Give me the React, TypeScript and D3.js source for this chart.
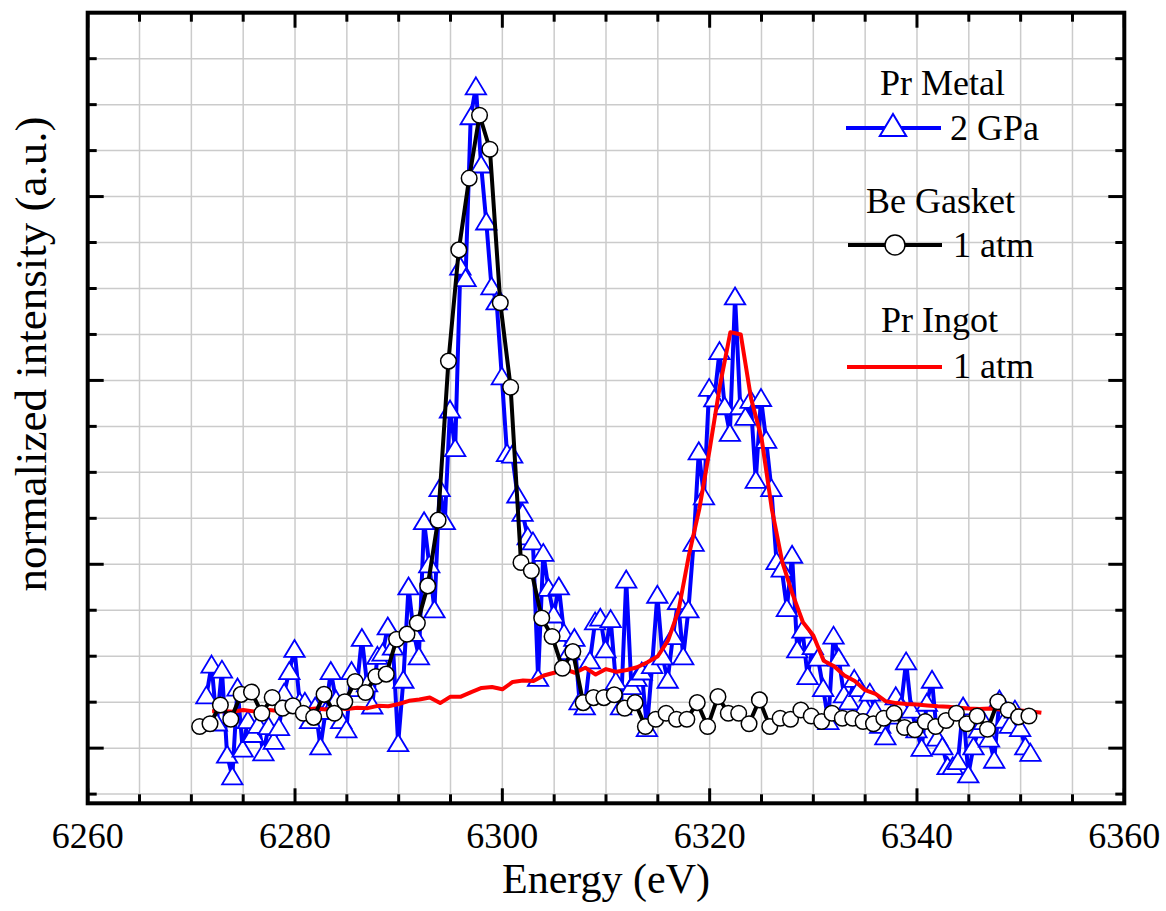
import React from "react";
import * as d3 from "d3";

// Pr Metal, 2 GPa (blue, triangles): 0.5 eV grid
const metalStart = 6271.45;
const metalStep = 0.5;
const metalValues = [
  1.14, 1.81, 0.55, 1.7, -0.15, -0.62, 1.31, -0.02, 0.6, 0.3,
  0.5, -0.1, 0.47, 0.15, 0.45, 1.2, 1.67, 2.15, 1.0, 1.0,
  0.6, 0.9, 0.03, 0.8, 1.67, 1.05, 0.6, 0.4, 1.67, 1.3,
  2.39, 1.4, 0.92, 2.0, 2.07, 2.64, 2.2, 0.1, 1.48, 3.51,
  2.5, 1.99, 4.93, 3.99, 3.01, 5.65, 4.93, 7.36, 6.52, 10.47,
  10.22, 13.74, 14.39, 12.69, 11.45, 10.04, 9.71, 8.08, 6.41, 6.38,
  5.51, 5.11, 4.6, 4.49, 1.52, 4.24, 3.48, 2.9, 3.51, 2.5,
  2.1, 2.39, 1.01, 0.9, 1.9, 2.75, 2.83, 2.14, 2.8, 1.45,
  0.9, 3.66, 1.34, 1.52, 1.66, 0.43, 1.8, 3.33, 1.99, 1.48,
  2.43, 3.19, 1.99, 3.01, 4.46, 6.45, 5.47, 7.83, 7.6, 8.63,
  7.43, 6.85, 9.82, 7.43, 7.2, 7.57, 5.83, 7.61, 6.7, 5.65,
  4.06, 3.9, 3.04, 4.2, 2.14, 2.57, 1.56, 2.21, 1.96, 1.3,
  0.58, 2.44, 1.96, 1.16, 1.01, 1.5, 1.3, 0.9, 1.2, 0.83,
  0.5, 0.25, 0.7, 1.12, 0.9, 1.88, 0.83, 0.4, 0.0, 0.98,
  1.48, 0.22, 0.03, -0.4, -0.4, -0.29, 0.9, -0.58, 0.03, 0.4,
  0.58, 0.2, -0.26, 1.05, 0.61, 0.5, 0.83, 0.43, 0.03, -0.11,
];

// Be Gasket, 1 atm (black, circles): 1 eV grid
const gasketStart = 6270.8;
const gasketStep = 1;
const gasketValues = [
  0.47, 0.53, 0.94, 0.63, 1.17, 1.22, 0.76, 1.1, 0.87, 0.92,
  0.76, 0.67, 1.17, 0.76, 1.01, 1.45, 1.21, 1.56, 1.61, 2.37,
  2.48, 2.72, 3.53, 4.96, 8.42, 10.84, 12.4, 13.77, 13.03, 9.69,
  7.85, 4.04, 3.86, 2.83, 2.43, 1.74, 2.1, 0.99, 1.1, 1.1,
  1.16, 0.87, 0.99, 0.47, 0.63, 0.76, 0.63, 0.63, 0.99, 0.47,
  1.12, 0.76, 0.76, 0.53, 1.05, 0.47, 0.65, 0.63, 0.83, 0.7,
  0.58, 0.76, 0.65, 0.65, 0.58, 0.53, 0.65, 0.76, 0.45, 0.4,
  0.58, 0.47, 0.6, 0.76, 0.53, 0.7, 0.41, 1.01, 0.83, 0.68,
  0.7,
];

// Pr Ingot, 1 atm (red line): 1 eV grid
const ingotStart = 6272;
const ingotStep = 1;
const ingotValues = [
  0.8, 0.81, 0.79, 0.83, 0.8, 0.84, 0.82, 0.85, 0.83, 0.84,
  0.86, 0.84, 0.87, 0.85, 0.88, 0.87, 0.92, 0.91, 0.96, 1.03,
  1.06, 1.1, 0.98, 1.12, 1.12, 1.22, 1.31, 1.33, 1.28, 1.44,
  1.47, 1.46, 1.58, 1.64, 1.72, 1.64, 1.75, 1.6, 1.72, 1.66,
  1.7, 1.76, 1.87, 2.0, 2.35, 3.0, 4.2, 5.2, 6.5, 7.9,
  9.05, 9.0, 7.6, 6.75, 5.2, 4.05, 3.35, 2.74, 2.45, 1.9,
  1.78, 1.58, 1.46, 1.26, 1.18, 1.02, 0.98, 0.96, 0.95, 0.93,
  0.91, 0.9, 0.88, 0.86, 0.85, 0.86, 0.84, 0.83, 0.82, 0.8,
  0.77,
];

const xTickLabels = [6260, 6280, 6300, 6320, 6340, 6360];
const xGrid = d3.range(6265, 6360, 5);
const yGrid = d3.range(-1, 16, 1);
const yMajor = [0, 4, 8, 12];

const font = "'Liberation Serif', 'Times New Roman', serif";
const gridColor = "#cbcbcb";

const toPoints = (start: number, step: number, vals: number[]) =>
  vals.map((v, i) => ({ e: start + i * step, v }));

const App = () => {
  const left = 87.7;
  const right = 1124.3;
  const top = 12.7;
  const bottom = 803.3;

  const x = d3.scaleLinear().domain([6260, 6360]).range([left, right]);
  const y = d3.scaleLinear().domain([-1.2, 16]).range([bottom, top]);

  const metal = toPoints(metalStart, metalStep, metalValues);
  const gasket = toPoints(gasketStart, gasketStep, gasketValues);
  const ingot = toPoints(ingotStart, ingotStep, ingotValues);

  const line = d3
    .line<{ e: number; v: number }>()
    .x((d) => x(d.e))
    .y((d) => y(d.v));

  const tri = (s: number) => `M0,${-0.55 * s} L${0.6 * s},${0.45 * s} L${-0.6 * s},${0.45 * s} Z`;

  return (
    <svg
      width={1166}
      height={911}
      style={{ position: "absolute", left: 0, top: 0, background: "#fff" }}
    >
      {/* grid */}
      {xGrid.map((t) => (
        <line key={"gx" + t} x1={x(t)} x2={x(t)} y1={top} y2={bottom} stroke={gridColor} strokeWidth={1.5} />
      ))}
      {yGrid.map((t) => (
        <line key={"gy" + t} x1={left} x2={right} y1={y(t)} y2={y(t)} stroke={gridColor} strokeWidth={1.5} />
      ))}

      {/* ticks, pointing inward on all four sides */}
      {d3.range(6260, 6361, 5).map((t) => {
        const len = t % 20 === 0 ? 15 : 9;
        return (
          <g key={"tx" + t} stroke="#000" strokeWidth={3}>
            <line x1={x(t)} x2={x(t)} y1={bottom} y2={bottom - len} />
            <line x1={x(t)} x2={x(t)} y1={top} y2={top + len} />
          </g>
        );
      })}
      {yGrid.map((t) => {
        const len = yMajor.includes(t) ? 16 : 9;
        return (
          <g key={"ty" + t} stroke="#000" strokeWidth={3}>
            <line x1={left} x2={left + len} y1={y(t)} y2={y(t)} />
            <line x1={right} x2={right - len} y1={y(t)} y2={y(t)} />
          </g>
        );
      })}

      {/* Pr Metal 2 GPa */}
      <path d={line(metal) ?? ""} fill="none" stroke="#0000ff" strokeWidth={4} strokeLinejoin="round" />
      {metal.map((d, i) => (
        <path
          key={"m" + i}
          d={tri(17)}
          transform={`translate(${x(d.e)},${y(d.v)})`}
          fill="#fff"
          stroke="#0000ff"
          strokeWidth={1.8}
        />
      ))}

      {/* Pr Ingot 1 atm */}
      <path d={line(ingot) ?? ""} fill="none" stroke="#ff0000" strokeWidth={4} strokeLinejoin="round" />

      {/* Be Gasket 1 atm */}
      <path d={line(gasket) ?? ""} fill="none" stroke="#000" strokeWidth={4} strokeLinejoin="round" />
      {gasket.map((d, i) => (
        <circle key={"g" + i} cx={x(d.e)} cy={y(d.v)} r={7.8} fill="#fff" stroke="#000" strokeWidth={1.5} />
      ))}

      {/* frame */}
      <rect x={left} y={top} width={right - left} height={bottom - top} fill="none" stroke="#000" strokeWidth={4} />

      {/* x tick labels */}
      {xTickLabels.map((t) => (
        <text key={"lx" + t} x={x(t)} y={848} textAnchor="middle" fontFamily={font} fontSize={36}>
          {t}
        </text>
      ))}

      {/* axis titles */}
      <text x={(left + right) / 2} y={893} textAnchor="middle" fontFamily={font} fontSize={42}>
        Energy (eV)
      </text>
      <text
        transform="translate(46,354) rotate(-90)"
        textAnchor="middle"
        fontFamily={font}
        fontSize={45}
      >
        normalized intensity (a.u.)
      </text>

      {/* legend */}
      <g fontFamily={font} fontSize={36}>
        <text x={880} y={95}>Pr Metal</text>
        <line x1={846} x2={941} y1={128} y2={128} stroke="#0000ff" strokeWidth={4} />
        <path d={tri(22)} transform="translate(893,126)" fill="#fff" stroke="#0000ff" strokeWidth={2} />
        <text x={950} y={140}>2 GPa</text>

        <text x={866} y={213}>Be Gasket</text>
        <line x1={848} x2={942} y1={245} y2={245} stroke="#000" strokeWidth={4} />
        <circle cx={895} cy={245} r={10} fill="#fff" stroke="#000" strokeWidth={1.5} />
        <text x={953} y={257}>1 atm</text>

        <text x={881} y={332}>Pr Ingot</text>
        <line x1={847} x2={942} y1={367} y2={367} stroke="#ff0000" strokeWidth={4} />
        <text x={953} y={378}>1 atm</text>
      </g>
    </svg>
  );
};

export default App;
